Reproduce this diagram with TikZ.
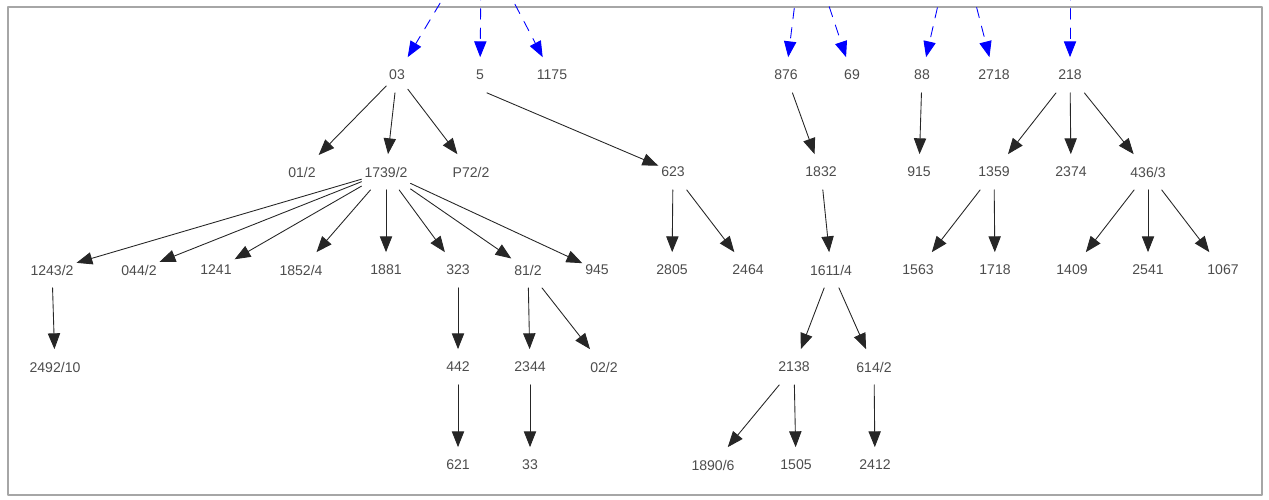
\documentclass[tikz,border=0pt]{standalone}
\usepackage{fontspec}
\setmainfont{Liberation Sans}
\usetikzlibrary{arrows.meta}
\begin{document}
\begin{tikzpicture}[line cap=round, line join=round,
    lbl/.style={font=\fontsize{8}{9}\selectfont, text=black!70, inner xsep=1.5pt, inner ysep=0pt, minimum height=0.7cm},
    link/.style={-{Triangle[length=9pt,width=7pt]}, line width=0.5pt, black!85},
    feed/.style={link, blue, dash pattern=on 6pt off 5pt}]
  \useasboundingbox (0,0) rectangle (25.38,-9.98);
  \draw[gray!70, line width=1.2pt] (0.16,-0.14) rectangle (25.24,-9.90);
  % first row
  \node[lbl] (n03) at (7.94,-1.50) {03};
  \node[lbl] (n5) at (9.60,-1.50) {5};
  \node[lbl] (n1175) at (11.04,-1.50) {1175};
  \node[lbl] (n876) at (15.72,-1.50) {876};
  \node[lbl] (n69) at (17.04,-1.50) {69};
  \node[lbl] (n88) at (18.44,-1.50) {88};
  \node[lbl] (n2718) at (19.88,-1.50) {2718};
  \node[lbl] (n218) at (21.40,-1.50) {218};
  % second row
  \node[lbl] (n012) at (6.04,-3.44) {01/2};
  \node[lbl] (n17392) at (7.72,-3.44) {1739/2};
  \node[lbl] (nP722) at (9.42,-3.44) {P72/2};
  \node[lbl] (n623) at (13.46,-3.44) {623};
  \node[lbl] (n1832) at (16.42,-3.44) {1832};
  \node[lbl] (n915) at (18.38,-3.44) {915};
  \node[lbl] (n1359) at (19.88,-3.44) {1359};
  \node[lbl] (n2374) at (21.42,-3.44) {2374};
  \node[lbl] (n4363) at (22.96,-3.44) {436/3};
  % third row
  \node[lbl] (n12432) at (1.04,-5.40) {1243/2};
  \node[lbl] (n0442) at (2.78,-5.40) {044/2};
  \node[lbl] (n1241) at (4.32,-5.40) {1241};
  \node[lbl] (n18524) at (6.02,-5.40) {1852/4};
  \node[lbl] (n1881) at (7.72,-5.40) {1881};
  \node[lbl] (n323) at (9.16,-5.40) {323};
  \node[lbl] (n812) at (10.56,-5.40) {81/2};
  \node[lbl] (n945) at (11.94,-5.40) {945};
  \node[lbl] (n2805) at (13.44,-5.40) {2805};
  \node[lbl] (n2464) at (14.96,-5.40) {2464};
  \node[lbl] (n16114) at (16.62,-5.40) {1611/4};
  \node[lbl] (n1563) at (18.36,-5.40) {1563};
  \node[lbl] (n1718) at (19.90,-5.40) {1718};
  \node[lbl] (n1409) at (21.44,-5.40) {1409};
  \node[lbl] (n2541) at (22.96,-5.40) {2541};
  \node[lbl] (n1067) at (24.46,-5.40) {1067};
  % fourth row
  \node[lbl] (n249210) at (1.10,-7.34) {2492/10};
  \node[lbl] (n442) at (9.16,-7.34) {442};
  \node[lbl] (n2344) at (10.60,-7.34) {2344};
  \node[lbl] (n022) at (12.08,-7.34) {02/2};
  \node[lbl] (n2138) at (15.88,-7.34) {2138};
  \node[lbl] (n6142) at (17.48,-7.34) {614/2};
  % fifth row
  \node[lbl] (n621) at (9.16,-9.30) {621};
  \node[lbl] (n33) at (10.60,-9.30) {33};
  \node[lbl] (n18906) at (14.26,-9.30) {1890/6};
  \node[lbl] (n1505) at (15.92,-9.30) {1505};
  \node[lbl] (n2412) at (17.50,-9.30) {2412};
  % incoming from above
  \coordinate (s03) at (9.20,0.6);
  \coordinate (s5) at (9.62,0.6);
  \coordinate (s1175) at (9.94,0.6);
  \coordinate (s876) at (15.98,0.6);
  \coordinate (s69) at (16.34,0.6);
  \coordinate (s88) at (18.92,0.6);
  \coordinate (s2718) at (19.34,0.6);
  \coordinate (s218) at (21.40,0.6);
  \draw[feed] (s03) -- (n03);
  \draw[feed] (s5) -- (n5);
  \draw[feed] (s1175) -- (n1175);
  \draw[feed] (s876) -- (n876);
  \draw[feed] (s69) -- (n69);
  \draw[feed] (s88) -- (n88);
  \draw[feed] (s2718) -- (n2718);
  \draw[feed] (s218) -- (n218);
  % edges
  \draw[link] (n03) -- (n012);
  \draw[link] (n03) -- (n17392);
  \draw[link] (n03) -- (nP722);
  \draw[link] (n5.south east) -- (n623);
  \foreach \t in {n12432,n0442,n1241,n18524,n1881,n323,n812,n945}
    \draw[link] (n17392) -- (\t);
  \draw[link] (n623) -- (n2805);
  \draw[link] (n623) -- (n2464);
  \draw[link] (n876) -- (n1832);
  \draw[link] (n1832) -- (n16114);
  \draw[link] (n16114) -- (n2138);
  \draw[link] (n16114) -- (n6142);
  \draw[link] (n2138) -- (n18906);
  \draw[link] (n2138) -- (n1505);
  \draw[link] (n6142) -- (n2412);
  \draw[link] (n88) -- (n915);
  \draw[link] (n218) -- (n1359);
  \draw[link] (n218) -- (n2374);
  \draw[link] (n218) -- (n4363);
  \draw[link] (n1359) -- (n1563);
  \draw[link] (n1359) -- (n1718);
  \draw[link] (n4363) -- (n1409);
  \draw[link] (n4363) -- (n2541);
  \draw[link] (n4363) -- (n1067);
  \draw[link] (n12432) -- (n249210);
  \draw[link] (n323) -- (n442);
  \draw[link] (n812) -- (n2344);
  \draw[link] (n812) -- (n022);
  \draw[link] (n442) -- (n621);
  \draw[link] (n2344) -- (n33);
\end{tikzpicture}
\end{document}
